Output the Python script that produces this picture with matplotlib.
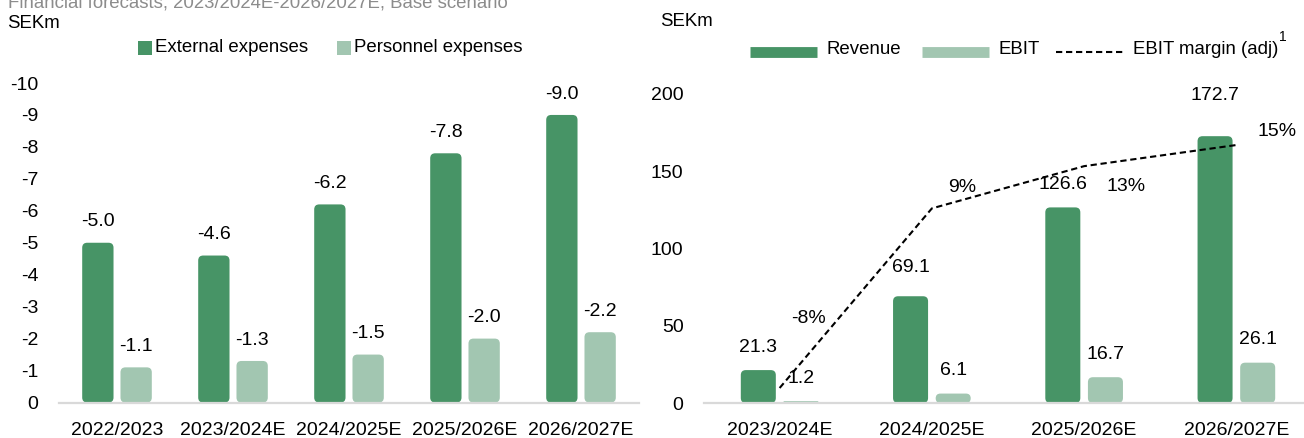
import numpy as np
import matplotlib.pyplot as plt
from matplotlib import font_manager
from matplotlib.patches import FancyBboxPatch, Rectangle
from matplotlib.lines import Line2D

W, H = 1304, 438

# left panel: cost base
years_left = ["2022/2023", "2023/2024E", "2024/2025E", "2025/2026E", "2026/2027E"]
external = [-5.0, -4.6, -6.2, -7.8, -9.0]
personnel = [-1.1, -1.3, -1.5, -2.0, -2.2]

# right panel: revenue / EBIT / margin
years_right = ["2023/2024E", "2024/2025E", "2025/2026E", "2026/2027E"]
revenue = [21.3, 69.1, 126.6, 172.7]
ebit = [1.2, 6.1, 16.7, 26.1]
margin = [-8, 9, 13, 15]

DARK = "#479466"
LIGHT = "#A2C6B1"
AXIS = "#D9D9D9"

installed = {f.name for f in font_manager.fontManager.ttflist}
if "Liberation Sans Narrow" in installed:
    NARROW, NSIZE = "Liberation Sans Narrow", 16
else:
    NARROW, NSIZE = "Liberation Sans", 13.4

plt.rcParams["font.family"] = "Liberation Sans"
plt.rcParams["font.size"] = 14
plt.rcParams["axes.unicode_minus"] = False

fig = plt.figure(figsize=(W / 100, H / 100), dpi=100)


def box(left, top, right, bottom):
    # pixel box (from top-left) -> figure fraction rect
    return [left / W, 1 - bottom / H, (right - left) / W, (bottom - top) / H]


def fx(px):
    return px / W


def fy(py):
    return 1 - py / H


def round_bars(ax, bars, r_px=5):
    t = ax.transData
    sx = abs(t.transform((1, 0))[0] - t.transform((0, 0))[0])
    sy = abs(t.transform((0, 1))[1] - t.transform((0, 0))[1])
    for rect in bars:
        x, y = rect.get_xy()
        w, h = rect.get_width(), rect.get_height()
        y0 = min(y, y + h)
        h = abs(h)
        r = min(r_px, w * sx / 2, h * sy / 2)
        p = FancyBboxPatch((x, y0), w, h,
                           boxstyle="round,pad=0,rounding_size=%f" % (r / sx),
                           mutation_aspect=sx / sy,
                           facecolor=rect.get_facecolor(), linewidth=0)
        rect.remove()
        ax.add_patch(p)


def style_axis(ax):
    for s in ["top", "left", "right"]:
        ax.spines[s].set_visible(False)
    ax.spines["bottom"].set_color(AXIS)
    ax.spines["bottom"].set_linewidth(1.6)
    ax.tick_params(length=0)
    ax.tick_params(axis="x", pad=14)


# ---------------- left panel ----------------
ax1 = fig.add_axes(box(59, 83, 639, 402.5))
x1 = np.arange(len(years_left))
off1, w1 = 0.165, 0.27
ax1.set_xlim(-0.5, 4.5)
ax1.set_ylim(0, -10)
b_ext = ax1.bar(x1 - off1, external, w1, color=DARK)
b_per = ax1.bar(x1 + off1, personnel, w1, color=LIGHT)
round_bars(ax1, b_ext)
round_bars(ax1, b_per)
for i in range(len(x1)):
    ax1.annotate("%.1f" % external[i], (x1[i] - off1, external[i]), xytext=(0, 15),
                 textcoords="offset points", ha="center", va="center")
    ax1.annotate("%.1f" % personnel[i], (x1[i] + off1, personnel[i]), xytext=(0, 15),
                 textcoords="offset points", ha="center", va="center")
yt = list(range(0, -11, -1))
ax1.set_yticks(yt, [str(v) for v in yt])
ax1.set_xticks(x1, years_left)
style_axis(ax1)
ax1.tick_params(axis="y", pad=15)

# ---------------- right panel ----------------
ax2 = fig.add_axes(box(703.5, 94, 1312.5, 403))
x2 = np.arange(len(years_right))
off2, w2 = 0.14, 0.23
ax2.set_xlim(-0.5, 3.5)
ax2.set_ylim(0, 200)
b_rev = ax2.bar(x2 - off2, revenue, w2, color=DARK)
b_ebit = ax2.bar(x2 + off2, ebit, w2, color=LIGHT)
round_bars(ax2, b_rev)
round_bars(ax2, b_ebit)
rev_lift = [0, 4.5, 0, 13]
for i in range(len(x2)):
    ax2.annotate("%.1f" % revenue[i], (x2[i] - off2, revenue[i]), xytext=(0, 16.5 + rev_lift[i]),
                 textcoords="offset points", ha="center", va="center")
    ax2.annotate("%.1f" % ebit[i], (x2[i] + off2, ebit[i]), xytext=(0, 16.5),
                 textcoords="offset points", ha="center", va="center")
ax2.set_yticks([0, 50, 100, 150, 200])
ax2.set_xticks(x2, years_right)
style_axis(ax2)
ax2.tick_params(axis="y", pad=14.4)

ax3 = ax2.twinx()
ax3.set_ylim(-9.42, 19.83)
ax3.plot(x2, margin, color="black", lw=1.5, linestyle=(0, (3, 1.8)))
ax3.axis("off")
m_offsets = [(21, 50), (21.5, 15), (30, -14.5), (29.5, 10)]
for i in range(len(x2)):
    ax3.annotate("%d%%" % margin[i], (x2[i], margin[i]), xytext=m_offsets[i],
                 textcoords="offset points", ha="center", va="center")

# ---------------- header texts and legends ----------------
fig.text(fx(8), fy(7), "Financial forecasts, 2023/2024E-2026/2027E, Base scenario",
         color="#8C8C8C", family=NARROW, size=NSIZE, va="baseline")
fig.text(fx(7), fy(23), "SEKm", family=NARROW, size=NSIZE, va="center")
fig.text(fx(660), fy(22), "SEKm", family=NARROW, size=NSIZE, va="center")

# left legend
for px, col, lab in [(138, DARK, "External expenses"), (337, LIGHT, "Personnel expenses")]:
    fig.add_artist(Rectangle((fx(px), fy(54.5)), 14 / W, 13.5 / H, facecolor=col,
                             linewidth=0, transform=fig.transFigure))
    fig.text(fx(px + 17), fy(48), lab, family=NARROW, size=NSIZE, va="center")

# right legend
for x0, col, lab in [(750, DARK, "Revenue"), (922, LIGHT, "EBIT")]:
    fig.add_artist(Line2D([fx(x0), fx(x0 + 67)], [fy(51.5), fy(51.5)], color=col, lw=7.8,
                          solid_capstyle="butt", transform=fig.transFigure))
    fig.text(fx(x0 + 76), fy(50), lab, family=NARROW, size=NSIZE, va="center")
fig.add_artist(Line2D([fx(1056), fx(1123)], [fy(52), fy(52)], color="black", lw=1.5,
                      linestyle=(0, (3, 1.8)), transform=fig.transFigure))
fig.text(fx(1133), fy(50), "EBIT margin (adj)", family=NARROW, size=NSIZE, va="center")
fig.text(fx(1279), fy(37), "1", family=NARROW, size=10, va="center")

fig.savefig("out.png", dpi=100)
